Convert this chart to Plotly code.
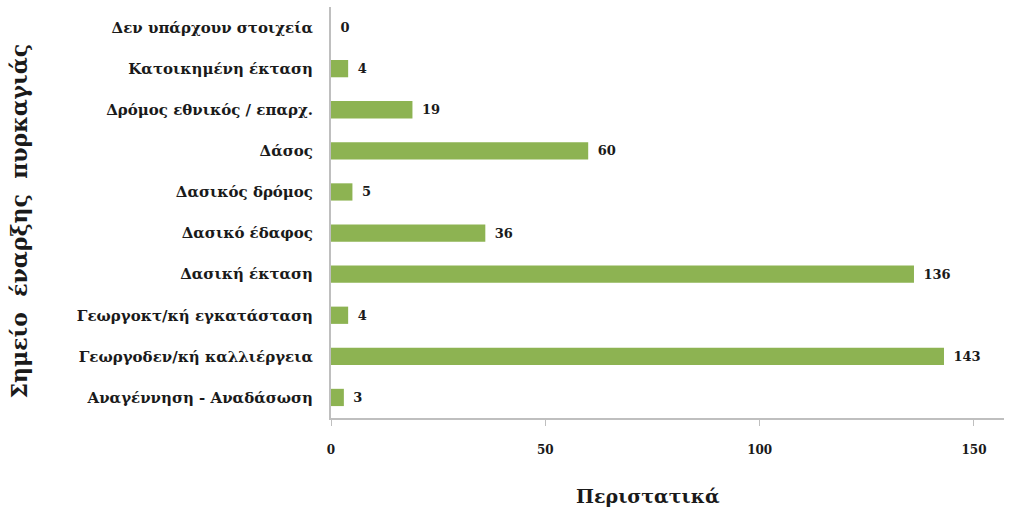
import plotly.graph_objects as go

# Fire starting point categories (top to bottom as displayed)
categories = [
    "Δεν υπάρχουν στοιχεία",
    "Κατοικημένη έκταση",
    "Δρόμος εθνικός / επαρχ.",
    "Δάσος",
    "Δασικός δρόμος",
    "Δασικό έδαφος",
    "Δασική έκταση",
    "Γεωργοκτ/κή εγκατάσταση",
    "Γεωργοδεν/κή καλλιέργεια",
    "Αναγέννηση - Αναδάσωση",
]
incidents = [0, 4, 19, 60, 5, 36, 136, 4, 143, 3]
x_ticks = [0, 50, 100, 150]

FONT = "DejaVu Serif"
BAR_COLOR = "#8DB352"
AXIS_COLOR = "#BFBFBF"

fig = go.Figure(
    go.Bar(
        x=incidents,
        y=categories,
        orientation="h",
        marker=dict(color=BAR_COLOR, line=dict(width=0)),
        width=0.42,
        text=["\u2002" + str(v) for v in incidents],
        textposition="outside",
        cliponaxis=False,
        textfont=dict(family=FONT, size=13, color="#1a1a1a", weight="bold"),
    )
)

fig.update_layout(
    width=1009,
    height=513,
    margin=dict(l=331, r=5, t=7, b=95),
    paper_bgcolor="white",
    plot_bgcolor="white",
    showlegend=False,
    font=dict(family=FONT, color="#1a1a1a"),
    xaxis=dict(
        range=[0, 157],
        tickvals=x_ticks,
        ticktext=[str(t) for t in x_ticks],
        showgrid=False,
        zeroline=False,
        showline=True,
        linecolor=AXIS_COLOR,
        linewidth=2,
        ticks="outside",
        ticklen=6,
        tickcolor=AXIS_COLOR,
        ticklabelstandoff=14,
        tickfont=dict(family=FONT, size=12, weight="bold"),
    ),
    yaxis=dict(
        categoryorder="array",
        categoryarray=categories[::-1],
        range=[-0.5, 9.5],
        showgrid=False,
        zeroline=False,
        showline=True,
        linecolor=AXIS_COLOR,
        linewidth=2,
        ticks="",
        ticklabelstandoff=13,
        tickfont=dict(family=FONT, size=15, weight="bold"),
    ),
    annotations=[
        dict(
            text="Περιστατικά",
            xref="x",
            yref="paper",
            x=74,
            y=-0.19,
            yanchor="middle",
            showarrow=False,
            font=dict(family=FONT, size=19, weight="bold"),
        ),
        dict(
            text="Σημείο  έναρξης  πυρκαγιάς",
            xref="paper",
            yref="paper",
            x=-0.464,
            y=0.48,
            xanchor="center",
            yanchor="middle",
            textangle=-90,
            showarrow=False,
            font=dict(family=FONT, size=22, weight="bold"),
        ),
    ],
)

fig.write_html("out.html")
